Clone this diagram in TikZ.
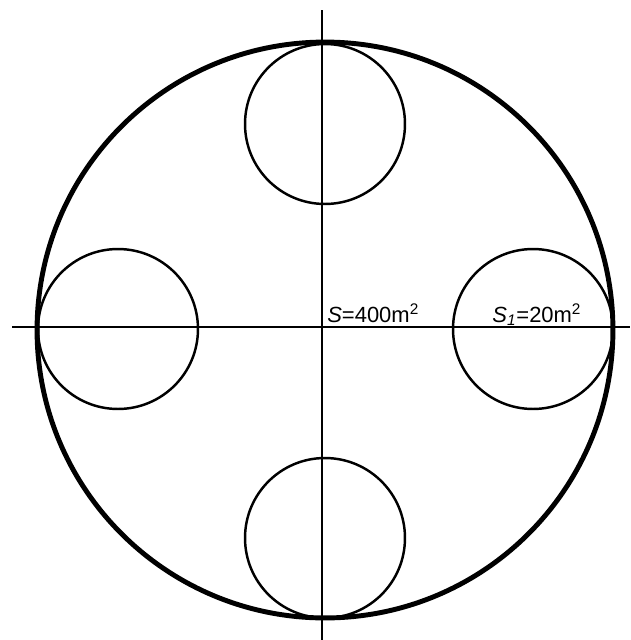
\documentclass[tikz,border=0pt]{standalone}
\usepackage{fontspec}
\setmainfont{Liberation Sans}
\usetikzlibrary{positioning}

\begin{document}
\begin{tikzpicture}[x=0.02cm,y=-0.02cm,
  bigcirc/.style={circle,draw,line width=2.8pt,minimum size=11.52cm,inner sep=0pt},
  holecirc/.style={circle,draw,line width=1.4pt,minimum size=3.2cm,inner sep=0pt},
  axisline/.style={line width=0.6pt},
  lab/.style={font=\fontsize{12.5}{14}\selectfont,anchor=base west,inner sep=0pt}]
\useasboundingbox (0,0) rectangle (630,640);

% ===== axes =====
\coordinate (xl) at (12,327);
\coordinate (xr) at (630,327);
\coordinate (yt) at (322,10);
\coordinate (yb) at (322,640);
\draw[axisline] (xl) -- (xr);
\draw[axisline] (yt) -- (yb);

% ===== outer circle =====
\node[bigcirc] (outer) at (325,330) {};

% ===== four small circles =====
\node[holecirc] (ctop) at (325,124) {};
\node[holecirc] (cleft) at (118,329) {};
\node[holecirc] (cright) at (533,329) {};
\node[holecirc] (cbot) at (325,538) {};

% ===== labels =====
\node[lab] (sbig) at (327,322) {\textit{S}=400m\textsuperscript{2}};
\node[lab] (ssmall) at (492,322) {\textit{S}\textsubscript{\textit{1}}=20m\textsuperscript{2}};

\end{tikzpicture}
\end{document}
